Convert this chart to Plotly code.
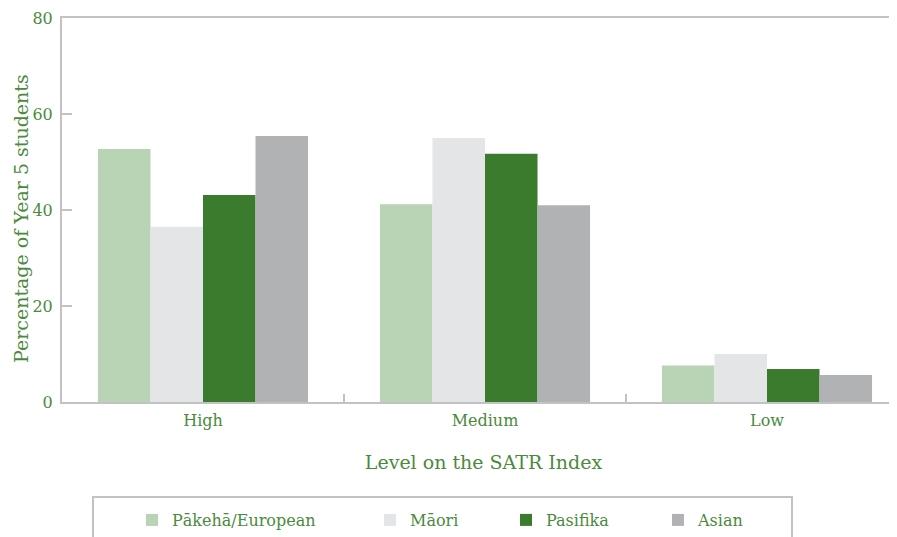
import plotly.graph_objects as go

categories = ["High", "Medium", "Low"]
series_names = ["Pākehā/European", "Māori", "Pasifika", "Asian"]
pakeha = [52.7, 41.2, 7.6]
maori = [36.5, 55.0, 10.0]
pasifika = [43.1, 51.7, 6.9]
asian = [55.4, 41.0, 5.6]
y_ticks = [0, 20, 40, 60, 80]
y_title = "Percentage of Year 5 students"
x_title = "Level on the SATR Index"

colors = ["#b9d3b5", "#e4e5e7", "#3a7b2d", "#b1b2b4"]
green = "#4a8a3c"
gray = "#c2c2c4"
font = "DejaVu Serif"

OFF = 8  # page body margin offset
W, H = 897, 537
ML, MT, MR, MB = 62 - OFF, 18 - OFF, 0, 537 - (402 - OFF)
pw, ph = W - ML - MR, H - MT - MB
band = 282.0
x_range = [-0.5, -0.5 + pw / band]

def px_x(x):
    return (x - OFF - ML) / pw

def px_y(y):
    return (H - MB - (y - OFF)) / ph

fig = go.Figure()
values = [pakeha, maori, pasifika, asian]
legend_ids = ["legend", "legend2", "legend3", "legend4"]
legend_px = [132, 370, 506, 658]
for name, vals, col, lid in zip(series_names, values, colors, legend_ids):
    fig.add_trace(go.Bar(x=categories, y=vals, name=name, marker=dict(color=col, line=dict(width=0)),
                         legend=lid, showlegend=True))

layout_legends = {}
for lid, lx in zip(legend_ids, legend_px):
    layout_legends[lid] = dict(x=px_x(lx), y=px_y(520), xanchor="left", yanchor="middle",
                               xref="paper", yref="paper",
                               font=dict(family=font, size=16, color=green),
                               bgcolor="rgba(0,0,0,0)", borderwidth=0, orientation="h")

fig.update_layout(
    width=W, height=H,
    margin=dict(l=ML, r=MR, t=MT, b=MB, autoexpand=False),
    paper_bgcolor="white", plot_bgcolor="white",
    barmode="group", bargap=0.255, bargroupgap=0,
    showlegend=True,
    font=dict(family=font, color=green),
    **layout_legends,
    xaxis=dict(type="category", range=x_range, showline=True, linecolor=gray, linewidth=2,
               mirror=True, ticks="inside", tickson="boundaries", ticklen=8, tickcolor=gray, tickwidth=2,
               tickfont=dict(family=font, size=16, color=green), showgrid=False, automargin=False,
               ticklabelstandoff=3,
               title=dict(text=x_title, font=dict(family=font, size=19, color=green), standoff=26)),
    yaxis=dict(range=[0, 80], tickvals=y_ticks, showline=True, linecolor=gray, linewidth=2,
               ticks="inside", ticklen=10, tickcolor=gray, tickwidth=2, showgrid=False, zeroline=False,
               tickfont=dict(family=font, size=16, color=green), automargin=False,
               ticklabelstandoff=4),
    annotations=[dict(text=y_title, xref="paper", yref="paper", x=px_x(21), y=px_y(219),
                      xanchor="center", yanchor="middle", textangle=-90, showarrow=False,
                      font=dict(family=font, size=19, color=green))],
    shapes=[dict(type="rect", xref="paper", yref="paper", x0=px_x(93), x1=px_x(792), y0=px_y(497), y1=px_y(570),
                 line=dict(color=gray, width=2), fillcolor="rgba(0,0,0,0)", layer="below")],
)

fig.write_html("out.html")
